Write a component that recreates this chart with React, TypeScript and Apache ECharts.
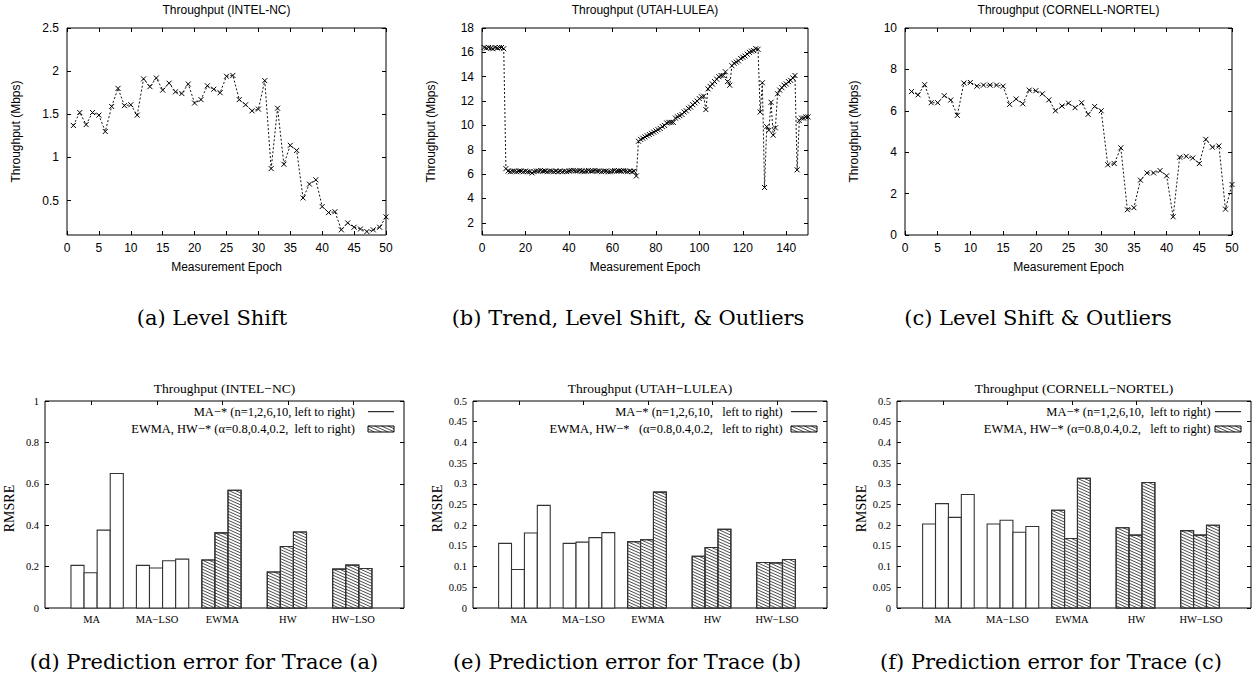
import React, { useEffect, useRef } from "react";
import * as echarts from "echarts";

// ---------- DATA ----------
const throughputIntelNC = [
  1.37, 1.52, 1.38, 1.52, 1.49, 1.3, 1.59, 1.8, 1.6, 1.61,
  1.49, 1.91, 1.82, 1.92, 1.78, 1.86, 1.76, 1.74, 1.85, 1.63,
  1.67, 1.83, 1.79, 1.75, 1.94, 1.95, 1.67, 1.61, 1.54, 1.56,
  1.89, 0.87, 1.57, 0.92, 1.14, 1.08, 0.53, 0.69, 0.74, 0.43,
  0.36, 0.37, 0.16, 0.24, 0.19, 0.17, 0.14, 0.16, 0.19, 0.31,
];

const throughputUtahLulea = [
  16.4, 16.35, 16.4, 16.35, 16.3, 16.4, 16.35, 16.4, 16.4, 16.3,
  6.45,
  6.25, 6.2, 6.25, 6.25, 6.2, 6.25, 6.25, 6.2, 6.25, 6.2,
  6.2, 6.1, 6.2, 6.25, 6.25, 6.3, 6.25, 6.25, 6.2, 6.25,
  6.25, 6.2, 6.25, 6.2, 6.25, 6.2, 6.25, 6.2, 6.25, 6.3,
  6.3, 6.25, 6.25, 6.3, 6.25, 6.2, 6.25, 6.3, 6.25, 6.25,
  6.3, 6.25, 6.25, 6.2, 6.25, 6.25, 6.2, 6.2, 6.25, 6.3,
  6.25, 6.25, 6.25, 6.3, 6.25, 6.2, 6.25, 6.2, 6.25,
  5.85,
  8.7, 8.85, 8.95, 9.05, 9.15, 9.25, 9.35, 9.45, 9.55, 9.65,
  9.75, 9.9, 10.0, 10.2, 10.25, 10.25, 10.25, 10.6, 10.7, 10.8,
  10.9, 11.1, 11.2, 11.4, 11.5, 11.7, 11.85, 12.0, 12.2, 12.35,
  12.4, 11.3, 13.0, 13.2, 13.4, 13.6, 13.8, 14.0, 14.1, 14.1,
  14.4, 13.6, 13.3, 14.9, 15.1, 15.2, 15.3, 15.5, 15.6, 15.7,
  15.85, 16.0, 16.1, 16.15, 16.3, 16.25, 11.1, 13.5, 4.9, 9.9,
  9.6, 11.9, 9.2, 9.8, 12.6, 12.9, 13.1, 13.3, 13.4, 13.6,
  13.7, 13.9, 14.1, 6.35, 10.4, 10.6, 10.6, 10.7, 10.7,
];

const throughputCornellNortel = [
  6.93, 6.77, 7.26, 6.39, 6.39, 6.73, 6.52, 5.78, 7.34, 7.37,
  7.19, 7.24, 7.24, 7.24, 7.19, 6.31, 6.57, 6.34, 7.0, 6.97,
  6.82, 6.53, 6.0, 6.23, 6.37, 6.15, 6.39, 5.83, 6.21, 6.0,
  3.39, 3.45, 4.21, 1.22, 1.32, 2.65, 3.0, 3.0, 3.11, 2.86,
  0.88, 3.76, 3.8, 3.72, 3.45, 4.62, 4.24, 4.3, 1.25, 2.44,
];

const ticksEpoch50 = [0, 5, 10, 15, 20, 25, 30, 35, 40, 45, 50];
const ticksEpoch150 = [0, 20, 40, 60, 80, 100, 120, 140];
const ticksIntelY = [0.5, 1, 1.5, 2, 2.5];
const ticksUtahY = [2, 4, 6, 8, 10, 12, 14, 16, 18];
const ticksCornellY = [0, 2, 4, 6, 8, 10];
const ticksRmsre1 = [0, 0.2, 0.4, 0.6, 0.8, 1];
const ticksRmsre05 = [0, 0.05, 0.1, 0.15, 0.2, 0.25, 0.3, 0.35, 0.4, 0.45, 0.5];

const methods = ["MA", "MA\u2212LSO", "EWMA", "HW", "HW\u2212LSO"];
const hatchedMethods = [false, false, true, true, true];

const rmsreIntel = [
  [0.206, 0.17, 0.376, 0.65],
  [0.206, 0.193, 0.228, 0.236],
  [0.232, 0.363, 0.569],
  [0.174, 0.297, 0.367],
  [0.188, 0.207, 0.191],
];
const rmsreUtah = [
  [0.156, 0.093, 0.181, 0.248],
  [0.156, 0.159, 0.17, 0.182],
  [0.16, 0.165, 0.28],
  [0.125, 0.146, 0.19],
  [0.11, 0.109, 0.117],
];
const rmsreCornell = [
  [0.203, 0.252, 0.219, 0.274],
  [0.203, 0.212, 0.183, 0.197],
  [0.236, 0.168, 0.313],
  [0.194, 0.176, 0.303],
  [0.187, 0.176, 0.2],
];

const lineTitles = ["Throughput (INTEL-NC)", "Throughput (UTAH-LULEA)", "Throughput (CORNELL-NORTEL)"];
const barTitles = ["Throughput (INTEL\u2212NC)", "Throughput (UTAH\u2212LULEA)", "Throughput (CORNELL\u2212NORTEL)"];
const legendTexts = [
  ["MA\u2212* (n=1,2,6,10, left to right)", "EWMA, HW\u2212* (\u03b1=0.8,0.4,0.2,  left to right)"],
  ["MA\u2212* (n=1,2,6,10,   left to right)", "EWMA, HW\u2212*   (\u03b1=0.8,0.4,0.2,   left to right)"],
  ["MA\u2212* (n=1,2,6,10,  left to right)", "EWMA, HW\u2212* (\u03b1=0.8,0.4,0.2,   left to right)"],
];
const captionsTop = ["(a) Level Shift", "(b) Trend, Level Shift, & Outliers", "(c) Level Shift & Outliers"];
const captionsBottom = [
  "(d) Prediction error for Trace (a)",
  "(e) Prediction error for Trace (b)",
  "(f) Prediction error for Trace (c)",
];

// ---------- LAYOUT ----------
const SANS = "Liberation Sans";
const SERIF = "Liberation Serif";
const CAPTION_FONT = "DejaVu Serif";

const grids = [
  { left: 67, top: 28, width: 319, height: 207 },
  { left: 482, top: 28, width: 326, height: 207 },
  { left: 905, top: 28, width: 327, height: 207 },
  { left: 45, top: 401, width: 359, height: 207 },
  { left: 473, top: 401, width: 354, height: 207 },
  { left: 897, top: 401, width: 354, height: 207 },
];

const BAR_W = 0.2;
const BAR_START = -0.315;
const HATCH_STEP = 3;
const HATCH_SLOPE = 0.45;

function hatchLines(xL: number, yT: number, w: number, h: number) {
  const out: any[] = [];
  const cStart = Math.ceil((-HATCH_SLOPE * w) / HATCH_STEP) * HATCH_STEP;
  for (let c = cStart; c < h; c += HATCH_STEP) {
    const xs = Math.max(xL, xL - c / HATCH_SLOPE);
    const xe = Math.min(xL + w, xL + (h - c) / HATCH_SLOPE);
    if (xe - xs > 0.3) {
      out.push({
        type: "line",
        silent: true,
        shape: {
          x1: xs,
          y1: yT + c + HATCH_SLOPE * (xs - xL),
          x2: xe,
          y2: yT + c + HATCH_SLOPE * (xe - xL),
        },
        style: { stroke: "#000", lineWidth: 0.7 },
      });
    }
  }
  return out;
}

function valueAxis(o: any) {
  return {
    type: "value",
    gridIndex: o.gridIndex,
    min: o.min,
    max: o.max,
    position: o.position,
    axisLine: { show: false, onZero: false },
    axisTick: {
      show: true,
      inside: true,
      length: 4,
      customValues: o.ticks,
      lineStyle: { color: "#000", width: 1 },
    },
    axisLabel: {
      show: !!o.labels,
      customValues: o.ticks,
      margin: o.margin ?? 7,
      fontFamily: o.font,
      fontSize: o.fontSize,
      color: "#000",
      formatter: o.formatter,
    },
    splitLine: { show: false },
  };
}

export default function App() {
  const ref = useRef<HTMLDivElement>(null);

  useEffect(() => {
    if (!ref.current) return;
    const chart = echarts.init(ref.current, undefined, { renderer: "svg" });

    const lineData = [throughputIntelNC, throughputUtahLulea, throughputCornellNortel];
    const lineX = [
      { max: 50, ticks: ticksEpoch50 },
      { max: 150, ticks: ticksEpoch150 },
      { max: 50, ticks: ticksEpoch50 },
    ];
    const lineY = [
      { min: 0.1, max: 2.5, ticks: ticksIntelY },
      { min: 1, max: 18, ticks: ticksUtahY },
      { min: 0, max: 10, ticks: ticksCornellY },
    ];
    const barData = [rmsreIntel, rmsreUtah, rmsreCornell];
    const barY = [
      { max: 1, ticks: ticksRmsre1 },
      { max: 0.5, ticks: ticksRmsre05 },
      { max: 0.5, ticks: ticksRmsre05 },
    ];

    const xAxis: any[] = [];
    const yAxis: any[] = [];
    const series: any[] = [];
    const elements: any[] = [];

    const text = (t: string, x: number, y: number, font: string, size: number, extra: any = {}) => ({
      type: "text",
      x,
      y,
      rotation: extra.rotation || 0,
      silent: true,
      style: {
        text: t,
        fontFamily: font,
        fontSize: size,
        fill: "#000",
        align: extra.align || "center",
        verticalAlign: "middle",
      },
    });

    // line plots
    for (let k = 0; k < 3; k++) {
      const g = grids[k];
      xAxis.push(valueAxis({ gridIndex: k, min: 0, max: lineX[k].max, ticks: lineX[k].ticks, position: "bottom", labels: true, font: SANS, fontSize: 12, margin: 7 }));
      xAxis.push(valueAxis({ gridIndex: k, min: 0, max: lineX[k].max, ticks: lineX[k].ticks, position: "top", labels: false }));
      yAxis.push(valueAxis({ gridIndex: k, min: lineY[k].min, max: lineY[k].max, ticks: lineY[k].ticks, position: "left", labels: true, font: SANS, fontSize: 12, margin: 8 }));
      yAxis.push(valueAxis({ gridIndex: k, min: lineY[k].min, max: lineY[k].max, ticks: lineY[k].ticks, position: "right", labels: false }));
      series.push({
        type: "line",
        xAxisIndex: 2 * k,
        yAxisIndex: 2 * k,
        data: lineData[k].map((v, i) => [i + 1, v]),
        symbol: "path://M0,0L10,10M10,0L0,10",
        symbolSize: 5,
        showSymbol: true,
        itemStyle: { color: "#000", borderColor: "#000", borderWidth: 1 },
        lineStyle: { color: "#111", width: 1, type: [2, 2] },
        emphasis: { disabled: true },
        z: 3,
      });
      const cx = g.left + g.width / 2;
      elements.push(text(lineTitles[k], cx, 10, SANS, 12));
      elements.push(text("Measurement Epoch", cx, 267, SANS, 12));
      elements.push(text("Throughput (Mbps)", g.left - 51, g.top + g.height / 2, SANS, 12, { rotation: Math.PI / 2 }));
    }

    // bar plots
    for (let k = 0; k < 3; k++) {
      const gi = k + 3;
      const g = grids[gi];
      const catFormatter = (v: number) => methods[Math.round(v)] ?? "";
      xAxis.push(valueAxis({ gridIndex: gi, min: -0.712, max: 4.775, ticks: [0, 1, 2, 3, 4], position: "bottom", labels: true, font: SERIF, fontSize: 10.5, margin: 6, formatter: catFormatter }));
      xAxis.push(valueAxis({ gridIndex: gi, min: -0.712, max: 4.775, ticks: [0, 1, 2, 3, 4], position: "top", labels: false }));
      yAxis.push(valueAxis({ gridIndex: gi, min: 0, max: barY[k].max, ticks: barY[k].ticks, position: "left", labels: true, font: SERIF, fontSize: 10.5, margin: 6 }));
      yAxis.push(valueAxis({ gridIndex: gi, min: 0, max: barY[k].max, ticks: barY[k].ticks, position: "right", labels: false }));

      const flat: number[][] = [];
      barData[k].forEach((grp, gIdx) => {
        grp.forEach((v, bIdx) => flat.push([gIdx, bIdx, v, hatchedMethods[gIdx] ? 1 : 0]));
      });
      series.push({
        type: "custom",
        coordinateSystem: "cartesian2d",
        xAxisIndex: 2 * gi,
        yAxisIndex: 2 * gi,
        encode: { x: 0, y: 2 },
        data: flat,
        z: 3,
        renderItem: (params: any, api: any) => {
          const gIdx = api.value(0);
          const bIdx = api.value(1);
          const v = api.value(2);
          const h = api.value(3);
          const x0 = gIdx + BAR_START + bIdx * BAR_W;
          const p0 = api.coord([x0, v]);
          const p1 = api.coord([x0 + BAR_W, 0]);
          const w = p1[0] - p0[0];
          const hh = p1[1] - p0[1];
          const children: any[] = [
            {
              type: "rect",
              shape: { x: p0[0], y: p0[1], width: w, height: hh },
              style: { fill: "#fff", stroke: "#333", lineWidth: 1.1 },
            },
          ];
          if (h) {
            hatchLines(p0[0], p0[1], w, hh).forEach((l) => children.push(l));
            children.push({
              type: "rect",
              shape: { x: p0[0], y: p0[1], width: w, height: hh },
              style: { fill: "none", stroke: "#333", lineWidth: 1.1 },
            });
          }
          return { type: "group", children };
        },
      });

      const cx = g.left + g.width / 2;
      const right = g.left + g.width;
      elements.push(text(barTitles[k], cx, g.top - 13, SERIF, 13.5));
      elements.push(text("RMSRE", g.left - 36, g.top + g.height / 2 + 4, SERIF, 14, { rotation: Math.PI / 2 }));
      const textRight = [355, 782.7, 1210.7][k];
      elements.push(text(legendTexts[k][0], textRight, g.top + 10.7, SERIF, 12.5, { align: "right" }));
      elements.push(text(legendTexts[k][1], textRight, g.top + 27.5, SERIF, 12.5, { align: "right" }));
      elements.push({
        type: "line",
        silent: true,
        shape: { x1: right - 36, y1: g.top + 10.7, x2: right - 10, y2: g.top + 10.7 },
        style: { stroke: "#000", lineWidth: 1 },
      });
      const bx = right - 36;
      const by = g.top + 25;
      const bw = 26;
      const bh = 6;
      elements.push({ type: "rect", silent: true, shape: { x: bx, y: by, width: bw, height: bh }, style: { fill: "#fff", stroke: "#000", lineWidth: 1 } });
      hatchLines(bx, by, bw, bh).forEach((l) => elements.push(l));
    }

    // captions
    const topCx = [212, 628, 1038];
    const botCx = [204, 627, 1051];
    captionsTop.forEach((c, i) => elements.push(text(c, topCx[i], 318, CAPTION_FONT, 21)));
    captionsBottom.forEach((c, i) => elements.push(text(c, botCx[i], 662, CAPTION_FONT, 21)));

    chart.setOption({
      animation: false,
      backgroundColor: "#fff",
      grid: grids.map((g) => ({
        ...g,
        show: true,
        borderColor: "#000",
        borderWidth: 1,
        backgroundColor: "transparent",
        containLabel: false,
      })),
      xAxis,
      yAxis,
      series,
      graphic: { elements },
    });

    return () => chart.dispose();
  }, []);

  return (
    <div
      ref={ref}
      style={{ position: "absolute", left: 0, top: 0, width: 1255, height: 678, background: "#fff" }}
    />
  );
}
